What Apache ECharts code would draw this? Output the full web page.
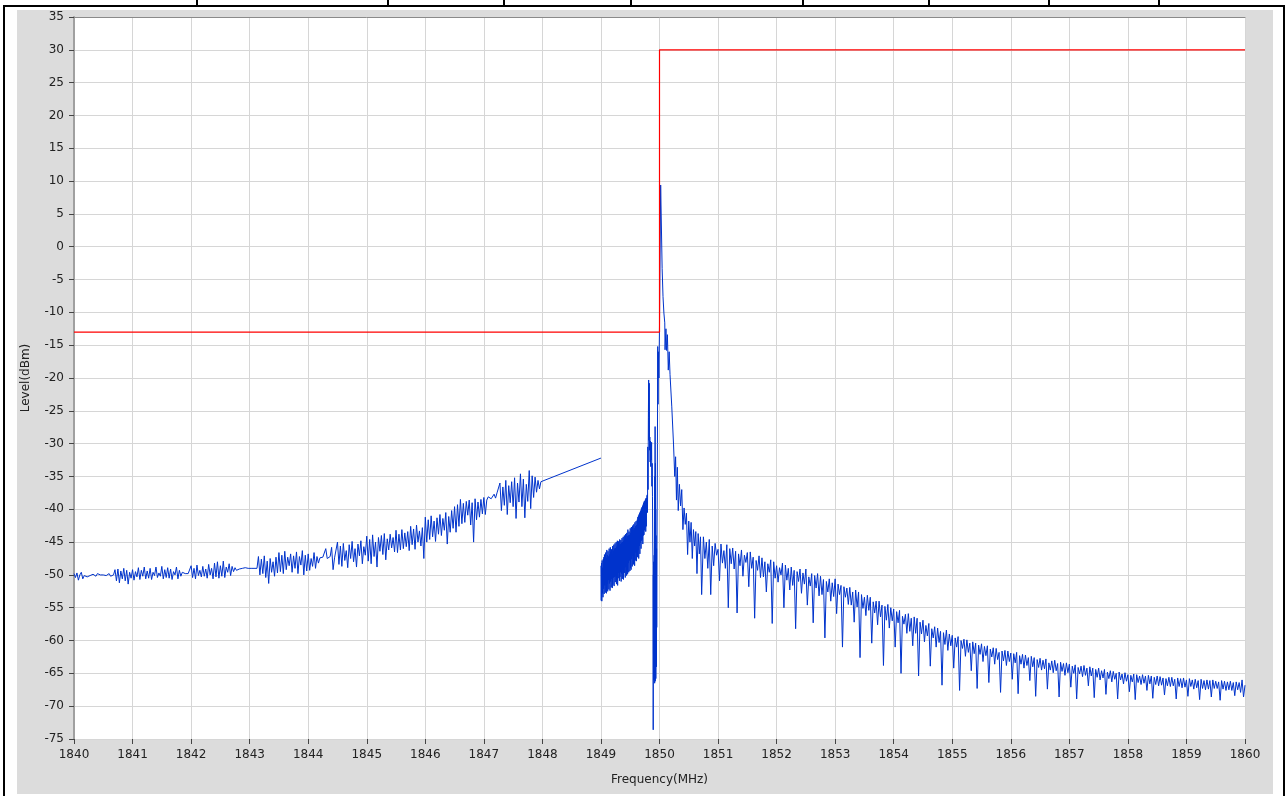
<!DOCTYPE html>
<html>
<head>
<meta charset="utf-8">
<script src="https://cdn.jsdelivr.net/npm/echarts@6/dist/echarts.min.js"></script>
<style>
  html, body { margin: 0; padding: 0; background: #fff; }
  body { width: 1288px; height: 796px; position: relative; overflow: hidden; }
  .panel { position: absolute; left: 17px; top: 10px; width: 1256px; height: 784px; background: #dcdcdc; }
  .bar { position: absolute; background: #000; }
  #chart { position: absolute; left: 0; top: 0; width: 1288px; height: 796px; }
</style>
</head>
<body>
<div class="panel"></div>
<div class="bar" style="left:3px;top:5px;width:1282px;height:2px"></div>
<div class="bar" style="left:3px;top:5px;width:2px;height:791px"></div>
<div class="bar" style="left:1283px;top:5px;width:2px;height:791px"></div>
<div id="dividers"></div>
<div id="chart"></div>
<script>
// top table cell borders above the chart
const dividerX = [196, 387, 503, 630, 802, 928, 1048, 1158]

// spectrum, 1840 .. 1848 MHz
const lowStart = 1840
const lowStep = 0.025
const lowLevels = [
    -49.8, -50.4, -49.7, -50.8, -50.0, -49.6, -50.6, -50.1, -49.9, -50.3,
    -50.0, -50.1, -50.0, -49.9, -50.0, -50.2, -49.8, -50.0, -50.0, -50.1,
    -50.0, -49.9, -50.1, -50.0, -49.8, -50.2, -50.0, -50.0, -49.2, -50.9,
    -49.1, -51.2, -49.4, -50.6, -49.0, -50.9, -49.3, -51.4, -49.6, -50.5,
    -49.2, -50.8, -49.5, -50.3, -48.9, -50.7, -49.3, -50.2, -48.8, -50.6,
    -49.4, -50.5, -49.0, -50.7, -49.6, -50.1, -48.8, -50.4, -49.7, -50.2,
    -48.7, -50.6, -49.2, -50.4, -48.9, -50.5, -49.1, -50.7, -49.5, -50.0,
    -48.8, -50.6, -49.3, -50.2, -49.6, -49.8, -49.8, -49.7, -49.8, -49.7,
    -48.6, -50.4, -49.0, -50.6, -48.5, -50.1, -49.3, -50.3, -48.7, -50.2,
    -49.1, -50.5, -48.4, -50.0, -49.0, -50.6, -48.2, -50.3, -48.0, -50.5,
    -48.6, -50.2, -47.9, -50.4, -48.8, -49.6, -48.3, -50.1, -48.7, -49.5,
    -48.9, -49.3, -49.0, -49.1, -48.9, -49.0, -49.1, -48.9, -49.0, -49.0,
    -48.9, -49.0, -48.8, -49.0, -48.9, -49.0, -47.2, -50.0, -47.6, -49.8,
    -47.1, -50.4, -47.9, -51.3, -47.5, -49.6, -48.0, -50.2, -47.3, -49.7,
    -46.6, -49.5, -47.0, -49.8, -46.4, -49.2, -47.3, -48.6, -46.8, -49.6,
    -47.1, -49.0, -46.5, -49.8, -47.2, -48.5, -46.3, -50.0, -47.0, -49.4,
    -46.8, -49.3, -47.5, -48.7, -46.6, -49.0, -47.2, -48.2, -47.4, -47.5,
    -47.3, -47.4, -46.0, -47.5, -47.3, -47.2, -45.8, -49.2, -47.4, -47.3,
    -45.0, -48.4, -45.6, -48.7, -45.2, -47.8, -46.3, -48.9, -45.4, -47.5,
    -44.9, -48.0, -46.0, -48.8, -45.3, -47.1, -44.8, -48.3, -45.7, -47.0,
    -44.1, -47.9, -44.6, -48.3, -43.9, -47.2, -45.0, -48.8, -44.3, -46.4,
    -44.0, -46.9, -43.7, -47.7, -44.5, -46.2, -43.8, -45.9, -44.3, -46.5,
    -43.2, -46.6, -43.8, -46.2, -43.1, -46.0, -43.6, -45.7, -43.4, -46.3,
    -42.6, -45.4, -43.0, -46.1, -42.4, -45.0, -43.3, -45.6, -42.8, -47.5,
    -41.2, -45.0, -41.6, -44.6, -41.0, -44.2, -41.8, -44.9, -41.3, -43.8,
    -40.8, -44.0, -41.4, -43.2, -40.5, -45.3, -41.1, -43.5, -40.2, -42.9,
    -39.6, -43.5, -39.3, -42.6, -38.5, -42.2, -39.1, -42.0, -38.8, -40.9,
    -38.6, -42.4, -39.0, -45.0, -38.4, -41.6, -38.9, -41.2, -38.5, -40.7,
    -38.2, -40.8, -38.6, -38.1, -37.9, -38.4, -38.6, -37.7, -38.3, -37.5,
    -37.8, -36.0, -40.2, -36.6, -39.4, -35.6, -40.8, -36.4, -39.0, -35.8,
    -39.6, -35.2, -41.4, -36.0, -38.9, -34.6, -39.6, -35.4, -41.3, -36.2,
    -38.8, -34.1, -39.9, -34.9, -38.2, -35.1, -37.4, -35.6, -36.9, -35.8,
    -36.0
]
// straight segment end before the gap
const rampFreq = 1849.0
const rampLevel = -32.2

// dense band 1849 .. 1849.78 MHz
const bandStart = 1849
const bandStep = 0.005
const bandLevels = [
    -48.6, -53.9, -48.2, -54.0, -47.8, -52.8, -48.9, -53.4, -47.6, -52.1,
    -47.3, -52.9, -46.9, -51.6, -47.8, -52.7, -46.6, -51.2, -47.4, -52.8,
    -46.2, -51.4, -47.0, -52.5, -46.4, -50.8, -47.2, -52.2, -46.0, -51.3,
    -46.9, -52.4, -45.8, -51.0, -46.5, -51.9, -46.1, -50.6, -46.8, -52.0,
    -45.6, -51.5, -46.3, -50.4, -45.4, -51.7, -46.0, -50.3, -45.2, -51.1,
    -45.9, -50.2, -45.0, -51.4, -45.7, -50.0, -44.8, -51.6, -45.4, -50.5,
    -44.9, -49.7, -45.5, -50.9, -44.6, -50.3, -45.3, -49.6, -44.7, -51.0,
    -45.1, -49.8, -44.4, -50.6, -45.0, -49.2, -44.2, -50.7, -44.8, -48.9,
    -44.0, -49.7, -44.6, -50.4, -43.8, -48.8, -44.5, -50.1, -43.6, -48.5,
    -44.1, -49.9, -43.1, -48.2, -44.0, -49.6, -43.4, -47.8, -43.9, -49.4,
    -42.9, -48.9, -43.6, -49.2, -42.7, -47.6, -43.3, -48.7, -42.5, -47.1,
    -43.2, -48.4, -42.3, -47.0, -42.9, -48.6, -42.0, -46.6, -42.6, -47.8,
    -41.8, -47.9, -42.4, -46.3, -41.6, -47.3, -41.2, -46.2, -41.0, -47.5,
    -40.8, -45.6, -40.6, -46.8, -40.4, -45.1, -40.2, -46.0, -39.9, -44.8,
    -39.7, -44.6, -39.5, -45.3, -39.3, -44.0, -39.0, -43.9, -38.8, -43.2,
    -38.7, -42.8, -38.5, -43.4, -38.3, -42.6, -38.2
]

// carrier, notch and skirt 1849.79 .. 1850.72 MHz
const peakFreqs = [
    1849.79, 1849.795, 1849.80, 1849.805, 1849.81, 1849.815, 1849.82, 1849.825, 1849.83, 1849.835,
    1849.84, 1849.845, 1849.85, 1849.855, 1849.86, 1849.865, 1849.87, 1849.875, 1849.88, 1849.885,
    1849.89, 1849.8925, 1849.895, 1849.8975, 1849.90, 1849.9025, 1849.905, 1849.9075, 1849.91, 1849.9125,
    1849.915, 1849.9175, 1849.92, 1849.9225, 1849.925, 1849.9275, 1849.93, 1849.9325, 1849.935, 1849.9375,
    1849.94, 1849.9425, 1849.945, 1849.9475, 1849.95, 1849.9525, 1849.955, 1849.96, 1849.965, 1849.97,
    1849.975, 1849.98, 1849.99, 1850.00, 1850.02, 1850.045, 1850.06, 1850.075, 1850.09, 1850.095,
    1850.11, 1850.12, 1850.135, 1850.15, 1850.165, 1850.18, 1850.21, 1850.24, 1850.26, 1850.275,
    1850.29, 1850.305, 1850.32, 1850.34, 1850.36, 1850.38, 1850.40, 1850.42, 1850.44, 1850.46,
    1850.48, 1850.50, 1850.52, 1850.54, 1850.56, 1850.58, 1850.60, 1850.62, 1850.64, 1850.66,
    1850.68, 1850.70, 1850.72
]
const peakLevels = [
    -37.8, -40.5, -30.5, -37.0, -26.0, -20.3, -29.5, -20.8, -31.0, -29.0,
    -32.8, -29.6, -33.5, -30.2, -32.5, -29.8, -36.5, -33.0, -38.1, -45.0,
    -48.5, -73.6, -50.0, -62.0, -48.0, -66.0, -49.0, -65.0, -47.0, -64.5,
    -42.0, -66.5, -35.0, -63.0, -27.4, -66.2, -33.0, -62.5, -40.0, -65.8,
    -44.0, -60.0, -48.0, -64.0, -46.0, -58.0, -50.0, -40.0, -30.0, -15.2,
    -24.0, -16.0, -20.0, -12.0, 9.4, -3.3, -7.6, -10.1, -11.6, -15.7,
    -12.5, -15.8, -13.4, -18.8, -16.0, -19.5, -24.4, -30.2, -35.0, -32.0,
    -38.6, -33.6, -40.2, -36.2, -39.5, -37.0, -43.1, -39.8, -42.3, -40.6,
    -46.9, -41.8, -45.0, -42.0, -47.5, -43.1, -45.6, -43.4, -49.8, -43.7,
    -46.8, -44.2, -53.0
]

// spectrum, 1850.75 .. 1860 MHz
const highStart = 1850.75
const highStep = 0.025
const highLevels = [
    -44.2, -47.5, -45.0, -49.0, -44.6, -53.0, -45.6, -48.6, -45.2, -47.0, -46.1, -50.9, -45.3, -48.2, -46.3, -49.0, -45.4, -55.0, -46.0, -48.3,
    -45.9, -49.1, -46.4, -55.8, -46.8, -48.6, -46.2, -50.2, -47.0, -48.1, -46.6, -51.8, -46.5, -49.0, -47.3, -56.6, -47.8, -49.3, -47.1, -50.4,
    -47.4, -50.3, -48.0, -52.6, -48.3, -49.6, -47.7, -57.4, -48.0, -50.5, -48.6, -51.1, -48.9, -50.0, -48.2, -55.0, -48.5, -50.8, -49.0, -52.3,
    -48.8, -51.6, -49.3, -58.2, -49.5, -51.0, -49.1, -52.8, -49.7, -51.4, -49.1, -54.6, -50.3, -51.7, -49.8, -57.3, -50.1, -52.0, -49.8, -53.2,
    -50.2, -53.0, -50.7, -59.6, -51.0, -52.6, -50.6, -54.0, -51.2, -53.3, -50.6, -55.9, -51.4, -53.0, -51.6, -61.0, -51.8, -53.4, -52.0, -54.5,
    -51.9, -54.6, -52.6, -57.2, -52.3, -54.9, -52.6, -62.6, -53.0, -55.1, -53.4, -56.2, -53.1, -55.4, -53.4, -60.4, -54.1, -55.8, -54.0, -57.6,
    -54.0, -56.4, -54.6, -63.8, -54.8, -56.9, -54.5, -58.1, -55.0, -57.0, -55.2, -61.0, -55.6, -57.3, -55.4, -65.0, -56.3, -57.5, -56.0, -58.9,
    -55.9, -58.6, -56.6, -60.8, -56.4, -58.9, -56.6, -65.4, -57.2, -59.0, -56.9, -60.2, -57.7, -59.3, -57.4, -63.9, -58.2, -59.6, -57.9, -61.0,
    -58.1, -60.3, -58.6, -66.8, -58.8, -60.6, -58.4, -61.5, -59.0, -60.8, -59.2, -64.2, -59.6, -61.0, -59.4, -67.6, -60.0, -61.2, -59.8, -62.4,
    -59.9, -61.8, -60.4, -64.6, -60.2, -62.0, -60.4, -67.3, -60.7, -62.1, -60.5, -63.2, -60.9, -62.3, -60.8, -66.4, -61.3, -62.5, -61.1, -63.6,
    -61.2, -62.9, -61.8, -67.9, -61.6, -63.1, -61.5, -63.8, -61.6, -63.2, -61.9, -65.9, -62.0, -63.4, -61.8, -68.1, -62.3, -63.6, -62.1, -64.2,
    -62.2, -63.8, -62.6, -66.1, -62.4, -64.0, -62.6, -68.5, -62.9, -64.1, -62.7, -64.5, -63.0, -64.3, -62.8, -67.4, -63.4, -64.5, -63.1, -64.9,
    -63.0, -64.6, -63.5, -68.6, -63.3, -64.7, -63.5, -65.3, -63.4, -64.9, -63.6, -67.1, -63.9, -65.0, -63.7, -68.9, -64.1, -65.1, -63.9, -65.5,
    -63.8, -65.3, -64.2, -66.9, -64.0, -65.4, -64.2, -68.7, -64.4, -65.6, -64.2, -66.0, -64.6, -65.7, -64.4, -68.2, -64.8, -65.8, -64.6, -66.3,
    -64.7, -65.9, -65.0, -68.9, -64.8, -66.0, -65.1, -66.6, -64.9, -66.2, -65.2, -67.8, -65.3, -66.3, -65.1, -69.0, -65.2, -66.4, -65.4, -66.7,
    -65.2, -66.5, -65.4, -67.6, -65.3, -66.6, -65.4, -68.8, -65.6, -66.7, -65.4, -66.9, -65.5, -66.8, -65.7, -68.3, -65.8, -66.9, -65.6, -67.0,
    -65.6, -66.9, -65.9, -68.9, -65.7, -67.0, -65.8, -67.2, -65.7, -67.1, -66.0, -68.5, -65.8, -67.0, -66.0, -67.4, -65.9, -67.2, -66.1, -69.0,
    -65.9, -67.3, -66.1, -67.5, -66.0, -67.4, -66.1, -68.6, -66.0, -67.3, -66.2, -67.3, -66.3, -69.1, -66.1, -67.4, -66.2, -67.6, -66.3, -67.5,
    -66.2, -67.6, -66.4, -68.4, -66.3, -67.5, -66.4, -67.9, -66.0, -68.6, -66.8
]

// limit mask
const limitFreqs = [1840, 1850, 1850, 1860]
const limitLevels = [-13, -13, 30, 30]

const font = "'DejaVu Sans', sans-serif"

drawDividers()
drawChart()

function drawDividers() {
    let box = document.getElementById("dividers")
    for (const x of dividerX) {
        let d = document.createElement("div")
        d.className = "bar"
        d.style.left = x + "px"
        d.style.top = "0px"
        d.style.width = "2px"
        d.style.height = "6px"
        box.appendChild(d)
    }
}

function stepped(start, step, levels) {
    return levels.map((v, i) => [+(start + i * step).toFixed(4), v])
}

function buildTrace() {
    let trace = stepped(lowStart, lowStep, lowLevels)
    trace.push([rampFreq, rampLevel])
    trace.push([rampFreq, '-'])
    trace = trace.concat(stepped(bandStart, bandStep, bandLevels))
    peakFreqs.forEach((f, i) => trace.push([f, peakLevels[i]]))
    return trace.concat(stepped(highStart, highStep, highLevels))
}

function drawChart() {
    let chart = echarts.init(document.getElementById("chart"))
    let label = { color: '#222', fontSize: 12, fontFamily: font, margin: 10 }
    let option = {
        backgroundColor: 'transparent',
        animation: false,
        grid: {
            left: 74, top: 17, right: 43, bottom: 57,
            show: true, backgroundColor: '#ffffff', borderWidth: 0
        },
        xAxis: [{
            type: 'value',
            min: 1840, max: 1860, interval: 1,
            name: 'Frequency(MHz)',
            nameLocation: 'middle',
            nameGap: 35,
            nameTextStyle: { color: '#222', fontSize: 12, fontFamily: font },
            axisLine: { show: false, onZero: false },
            axisTick: { show: true, length: 5, lineStyle: { color: '#444' } },
            axisLabel: Object.assign({ formatter: v => String(v) }, label),
            splitLine: { show: true, lineStyle: { color: '#d6d6d6', width: 1 } }
        }, {
            type: 'value',
            position: 'top',
            min: 1840, max: 1860,
            axisLine: { show: true, onZero: false, lineStyle: { color: '#8a8a8a', width: 1 } },
            axisTick: { show: false },
            axisLabel: { show: false },
            splitLine: { show: false }
        }],
        yAxis: {
            type: 'value',
            min: -75, max: 35, interval: 5,
            name: 'Level(dBm)',
            nameLocation: 'middle',
            nameGap: 42,
            nameTextStyle: { color: '#222', fontSize: 12, fontFamily: font },
            axisLine: { show: true, onZero: false, lineStyle: { color: '#a0a0a0', width: 2 } },
            axisTick: { show: true, length: 5, lineStyle: { color: '#444' } },
            axisLabel: label,
            splitLine: { show: true, lineStyle: { color: '#d6d6d6', width: 1 } }
        },
        series: [
            {
                name: 'trace',
                type: 'line',
                data: buildTrace(),
                showSymbol: false,
                connectNulls: false,
                lineStyle: { color: '#0033cc', width: 1 },
                z: 2
            },
            {
                name: 'limit',
                type: 'line',
                data: limitFreqs.map((f, i) => [f, limitLevels[i]]),
                showSymbol: false,
                lineStyle: { color: '#ff0000', width: 1.2 },
                z: 3
            }
        ]
    }
    chart.setOption(option)
}
</script>
</body>
</html>
